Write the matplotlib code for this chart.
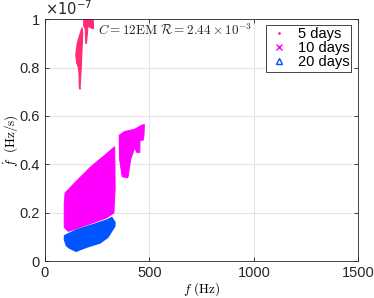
import numpy as np
import matplotlib.pyplot as plt
from matplotlib.lines import Line2D

plt.rcParams['font.family'] = ['Liberation Sans', 'DejaVu Sans']
plt.rcParams['mathtext.fontset'] = 'cm'

# region outlines: f in Hz, fdot in units of 1e-7 Hz/s
f_5a = [150, 155, 165, 178, 181, 178, 174, 170, 168, 165, 163, 160, 152, 148]
fd_5a = [0.87, 0.90, 0.93, 0.965, 0.94, 0.88, 0.80, 0.74, 0.71, 0.72, 0.78, 0.80, 0.82, 0.85]
f_5b = [186, 231, 233, 216, 207, 199, 196, 193, 186]
fd_5b = [1.0, 1.0, 0.96, 0.965, 0.975, 0.90, 0.90, 0.96, 0.97]

f_10a = [93, 97, 150, 220, 290, 334, 336, 330, 296, 200, 112, 93]
fd_10a = [0.24, 0.282, 0.33, 0.39, 0.44, 0.473, 0.30, 0.20, 0.18, 0.15, 0.124, 0.14]
f_10b = [356, 380, 430, 462, 476, 474, 470, 455, 454, 440, 430, 410, 398, 396, 370, 358]
fd_10b = [0.52, 0.535, 0.545, 0.561, 0.565, 0.52, 0.50, 0.50, 0.45, 0.45, 0.47, 0.42, 0.35, 0.345, 0.35, 0.42]

f_20 = [96, 150, 230, 300, 320, 334, 333, 300, 263, 200, 167, 150, 120, 105, 95]
fd_20 = [0.105, 0.128, 0.150, 0.170, 0.179, 0.160, 0.145, 0.100, 0.077, 0.060, 0.049, 0.043, 0.055, 0.065, 0.090]

c5 = '#ff2a78'
c10 = '#ff00ff'
c20 = '#0055ff'

fig = plt.figure(figsize=(3.74, 2.98), dpi=100)
ax = fig.add_axes([0.120, 0.123, 0.838, 0.813])

ax.fill(f_5a, fd_5a, color=c5, lw=0.8, ec=c5)
ax.fill(f_5b, fd_5b, color=c5, lw=0.8, ec=c5)
ax.fill(f_10a, fd_10a, color=c10, lw=0.8, ec=c10)
ax.fill(f_10b, fd_10b, color=c10, lw=0.8, ec=c10)
ax.fill(f_20, fd_20, color=c20, lw=1.5, ec=c20)

ax.set_xlim(0, 1500)
ax.set_ylim(0, 1)
ax.set_xticks([0, 500, 1000, 1500])
ax.set_yticks([0, 0.2, 0.4, 0.6, 0.8, 1])
ax.set_yticklabels(['0', '0.2', '0.4', '0.6', '0.8', '1'])
ax.grid(True, color='#e3e3e3', lw=0.8)
ax.set_axisbelow(True)
ax.tick_params(direction='in', top=True, right=True, labelsize=10.5, length=3,
               color='#262626', labelcolor='#262626', width=0.6)
for s in ax.spines.values():
    s.set_color('#262626')
    s.set_linewidth(0.6)

ax.set_xlabel(r'$f\ (\mathrm{Hz})$', fontsize=9.5, labelpad=0)
ax.set_ylabel(r'$\dot{f}\ \ (\mathrm{Hz/s})$', fontsize=9.5, labelpad=0)
ax.text(0.0, 1.005, r'$\times10^{-7}$', transform=ax.transAxes, fontsize=10.5,
        color='#262626', va='bottom', ha='left', family='Liberation Sans',
        math_fontfamily='dejavusans')

ax.text(0.17, 0.935, r'$C=12\mathrm{EM}\ \mathcal{R}=2.44\times10^{-3}$',
        transform=ax.transAxes, fontsize=9.5, color='#262626')

handles = [
    Line2D([], [], ls='none', marker='.', ms=2, color=c5),
    Line2D([], [], ls='none', marker='x', ms=4, mew=1, color=c10),
    Line2D([], [], ls='none', marker='^', ms=4, mfc='none', mew=1, color=c20),
]
leg = ax.legend(handles, ['5 days', '10 days', '20 days'], loc='upper right',
                bbox_to_anchor=(0.978, 0.975), fontsize=10.5, fancybox=False,
                framealpha=1, edgecolor='#262626', handlelength=1.4,
                handletextpad=0.6, borderpad=0.15, labelspacing=0.0,
                borderaxespad=0)
leg.get_frame().set_linewidth(0.6)

fig.savefig('out.png', dpi=100)
